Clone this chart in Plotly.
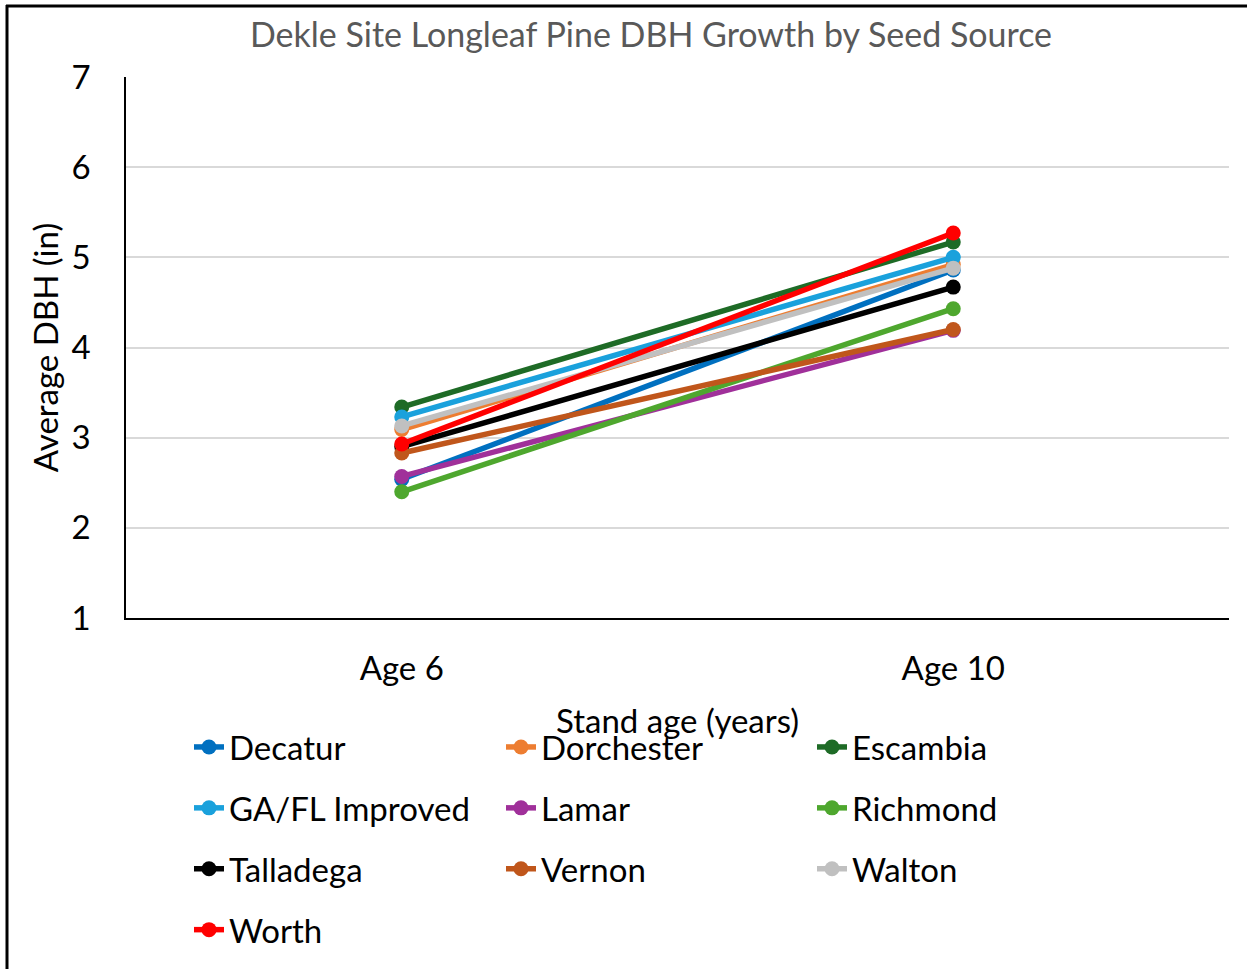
import plotly.graph_objects as go

ages = ["Age 6", "Age 10"]
sources = ["Decatur", "Dorchester", "Escambia", "GA/FL Improved", "Lamar",
           "Richmond", "Talladega", "Vernon", "Walton", "Worth"]
decatur = [2.54, 4.86]
dorchester = [3.09, 4.92]
escambia = [3.34, 5.17]
gafl = [3.23, 5.00]
lamar = [2.57, 4.19]
richmond = [2.40, 4.43]
talladega = [2.90, 4.67]
vernon = [2.83, 4.20]
walton = [3.13, 4.88]
worth = [2.93, 5.27]
values = [decatur, dorchester, escambia, gafl, lamar, richmond, talladega, vernon, walton, worth]
colors = ["#0070C0", "#ED7D31", "#1E6B26", "#1AA1DC", "#A0309A",
          "#4EA72E", "#000000", "#C0561B", "#C0C0C0", "#FF0000"]
legend_of = ["legend", "legend2", "legend3", "legend", "legend2",
             "legend3", "legend", "legend2", "legend3", "legend"]
x_title = "Stand age (years)"

FONT = "Lato"
fig = go.Figure()
for name, vals, col, lg in zip(sources, values, colors, legend_of):
    fig.add_trace(go.Scatter(
        x=ages, y=vals, name=name, mode="lines+markers",
        line=dict(color=col, width=5.5),
        marker=dict(color=col, size=15),
        legend=lg, legendgroup=name,
    ))

L, R, T, B = 126, 18, 77, 351
W, H = 1247, 969
pw, ph = W - L - R, H - T - B

def px(x):
    return (x - L) / pw

def py(y):
    return (H - B - y) / ph

def cy(y):
    return 1 - y / H

leg_common = dict(orientation="v", tracegroupgap=15, bgcolor="rgba(0,0,0,0)",
                  font=dict(family=FONT, size=33, color="#000000"),
                  xanchor="left", yanchor="top", itemwidth=30, yref="container")

fig.update_layout(
    width=W, height=H,
    margin=dict(l=L, r=R, t=T, b=B, autoexpand=False),
    paper_bgcolor="white", plot_bgcolor="white",
    font=dict(family=FONT, color="#000000"),
    title=dict(text="Dekle Site Longleaf Pine DBH Growth by Seed Source",
               x=px(651), xanchor="center", xref="paper",
               y=1 - 35 / H, yanchor="middle",
               font=dict(family=FONT, size=34, color="#595959")),
    xaxis=dict(type="category", range=[-0.5, 1.5], showgrid=False,
               showline=True, linecolor="#000000", linewidth=1.5,
               ticks="outside", ticklen=21, tickcolor="rgba(0,0,0,0)",
               tickfont=dict(family=FONT, size=33, color="#000000")),
    yaxis=dict(range=[1, 7], dtick=1, showgrid=True, gridcolor="#D9D9D9", gridwidth=1.5,
               showline=True, linecolor="#000000", linewidth=1.5, zeroline=False,
               ticks="outside", ticklen=27, tickcolor="rgba(0,0,0,0)",
               tickfont=dict(family=FONT, size=33, color="#000000"),
               title=dict(text="Average DBH (in)", standoff=3,
                          font=dict(family=FONT, size=33, color="#000000"))),
    legend=dict(x=px(189), y=cy(719), **leg_common),
    legend2=dict(x=px(501), y=cy(719), **leg_common),
    legend3=dict(x=px(812), y=cy(719), **leg_common),
    annotations=[
        dict(text=x_title, xref="paper", yref="paper", x=px(677.5), y=py(720),
             xanchor="center", yanchor="middle", showarrow=False,
             font=dict(family=FONT, size=33, color="#000000")),
    ],
    shapes=[
        dict(type="line", xref="paper", yref="paper", x0=px(7), x1=px(7),
             y0=py(5), y1=py(975), line=dict(color="#000000", width=3)),
        dict(type="line", xref="paper", yref="paper", x0=px(6), x1=px(1247),
             y0=py(6), y1=py(6), line=dict(color="#000000", width=3)),
    ],
)

fig.write_html("out.html", config={"displayModeBar": False},
               post_script="document.body.style.margin='0';")
